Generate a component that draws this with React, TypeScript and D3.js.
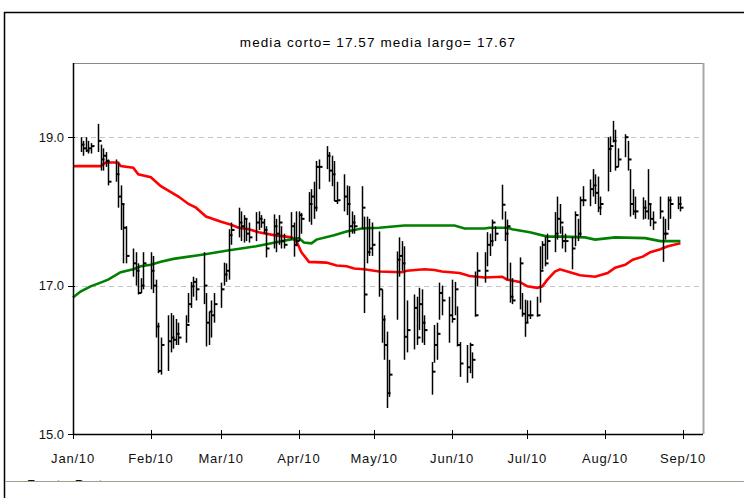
import React from 'react';
import * as d3 from 'd3';

// chart text
const title = 'media corto= 17.57 media largo= 17.67';
const source = 'Fuente: Reuters';
const monthLabels = ['Jan/10', 'Feb/10', 'Mar/10', 'Apr/10', 'May/10', 'Jun/10', 'Jul/10', 'Aug/10', 'Sep/10'];
const yTicks = [15, 17, 19];
const gridTicks = [17, 19];

// daily bars, one line per month (Jan .. Aug 2010)
const high = [
  19.0, 18.95, 19.0, 18.95, 18.92, 19.18, 18.9, 18.85, 18.8, 18.7, 18.7, 18.65, 18.35, 18.1, 17.8, 17.5, 17.45, 17.3, 17.1, 17.45,
  17.45, 17.4, 17.08, 16.5, 16.3, 16.6, 16.63, 16.6, 16.55, 16.5, 16.6, 16.9, 17.05, 17.12, 17.1, 17.45, 16.9, 16.65, 16.8, 16.9,
  17.04, 17.31, 17.3, 17.76, 17.85, 18.05, 18.0, 17.95, 17.9, 17.85, 17.99, 18.0, 17.95, 17.9, 17.8, 17.96, 17.9, 17.95, 17.8, 17.7, 17.99, 17.85, 18.0,
  18.0, 17.98, 18.26, 18.3, 18.4, 18.68, 18.7, 18.88, 18.8, 18.75, 18.68, 18.4, 18.5, 18.35, 18.34, 18.0, 17.95, 18.34, 17.93, 17.93, 17.9, 17.85,
  17.73, 16.95, 16.6, 16.38, 16.0, 17.46, 17.65, 17.6, 17.53, 16.8, 16.88, 16.85, 16.97, 16.95, 16.6, 15.97, 16.47, 16.5, 17.04, 17.0, 16.85,
  17.08, 17.05, 16.72, 16.24, 16.2, 16.23, 16.1, 17.19, 17.45, 17.45, 17.72, 17.7, 17.89, 17.8, 18.36, 18.0, 17.89, 17.31, 17.1, 17.38, 16.9, 16.81,
  16.8, 16.8, 16.85, 17.53, 17.6, 17.66, 17.7, 17.99, 18.2, 18.1, 17.8, 17.7, 17.66, 18.0, 17.9, 18.2, 18.34, 18.43, 18.57, 18.5, 18.47, 18.2,
  19.0, 19.01, 19.22, 19.1, 18.85, 19.04, 18.95, 18.57, 18.3, 18.2, 18.19, 18.15, 18.57, 18.1, 18.0, 18.2, 17.93, 17.9, 18.2, 18.2, 18.2, 18.2,
];
const low = [
  18.8, 18.75, 18.8, 18.78, 18.78, 18.8, 18.55, 18.55, 18.6, 18.35, 18.4, 18.05, 17.75, 17.3, 17.3, 17.12, 17.0, 16.88, 16.9, 16.95,
  16.95, 16.9, 16.3, 15.82, 15.8, 15.85, 16.1, 16.15, 16.2, 16.2, 16.23, 16.5, 16.7, 16.85, 16.8, 16.75, 16.18, 16.2, 16.3, 16.5,
  16.7, 17.0, 17.05, 17.08, 17.55, 17.65, 17.6, 17.58, 17.6, 17.58, 17.6, 17.75, 17.78, 17.7, 17.38, 17.5, 17.45, 17.55, 17.5, 17.5, 17.62, 17.39, 17.53,
  17.6, 17.7, 17.86, 17.82, 17.9, 18.0, 18.3, 18.57, 18.4, 18.34, 18.14, 18.1, 18.0, 17.95, 17.65, 17.7, 17.7, 17.76, 16.63, 17.3, 17.4, 17.4,
  16.85, 16.23, 16.0, 15.35, 15.5, 16.54, 17.12, 17.2, 16.0, 16.1, 16.14, 16.2, 16.4, 16.23, 16.2, 15.53, 15.96, 16.0, 16.54, 16.6, 16.23,
  16.5, 16.6, 16.18, 15.77, 15.69, 15.82, 15.75, 16.58, 16.99, 17.04, 17.26, 17.4, 17.53, 17.6, 17.89, 17.6, 17.08, 16.77, 16.75, 16.68, 16.58, 16.31,
  16.5, 16.55, 16.58, 16.77, 17.22, 17.26, 17.35, 17.45, 17.62, 17.7, 17.5, 17.45, 17.22, 17.53, 17.6, 17.66, 18.07, 18.07, 18.2, 18.1, 17.99, 17.95,
  18.27, 18.53, 18.93, 18.55, 18.6, 18.73, 18.55, 17.93, 17.95, 17.9, 17.89, 17.9, 17.89, 17.8, 17.75, 17.9, 17.32, 17.62, 17.75, 17.9, 18.03, 18.0,
];
const close = [
  18.9, 18.85, 18.82, 18.85, 18.88, 18.95, 18.7, 18.75, 18.68, 18.4, 18.5, 18.2, 18.1, 17.78, 17.4, 17.3, 17.2, 16.9, 17.0, 17.3,
  17.2, 17.0, 16.45, 15.85, 16.2, 16.25, 16.3, 16.27, 16.35, 16.3, 16.47, 16.75, 16.99, 17.05, 16.95, 17.0, 16.5, 16.65, 16.6, 16.75,
  16.95, 17.15, 17.2, 17.68, 17.75, 17.85, 17.8, 17.9, 17.7, 17.65, 17.85, 17.9, 17.85, 17.75, 17.5, 17.8, 17.7, 17.85, 17.6, 17.55, 17.8, 17.55, 17.6,
  17.95, 17.9, 18.1, 18.2, 18.05, 18.6, 18.6, 18.75, 18.55, 18.5, 18.14, 18.15, 18.2, 18.1, 17.8, 17.85, 17.8, 18.05, 16.88, 17.45, 17.5, 17.55,
  16.95, 16.54, 16.2, 15.55, 15.8, 17.35, 17.4, 17.3, 16.31, 16.4, 16.7, 16.3, 16.75, 16.5, 16.4, 15.84, 16.2, 16.35, 16.9, 16.8, 16.6,
  16.55, 16.95, 16.2, 15.95, 15.9, 16.2, 16.0, 16.6, 17.2, 17.2, 17.55, 17.6, 17.85, 17.7, 18.09, 17.7, 17.8, 16.85, 16.8, 17.3, 16.62, 16.5,
  16.6, 16.6, 16.6, 17.2, 17.55, 17.3, 17.6, 17.7, 17.9, 17.85, 17.6, 17.6, 17.5, 17.95, 17.7, 18.15, 18.15, 18.3, 18.35, 18.25, 18.05, 18.1,
  18.84, 18.88, 18.95, 18.6, 18.7, 19.0, 18.7, 18.1, 18.0, 18.0, 18.05, 18.0, 18.1, 17.9, 17.85, 18.0, 17.7, 17.7, 18.15, 18.1, 18.1, 18.05,
];

// short moving average (red)
const shortDates = [
  '2010-01-01', '2010-01-12', '2010-01-14', '2010-01-19', '2010-01-20', '2010-01-25', '2010-01-27', '2010-02-01', '2010-02-05',
  '2010-02-09', '2010-02-12', '2010-02-16', '2010-02-19', '2010-02-23', '2010-03-01', '2010-03-05', '2010-03-08', '2010-03-12',
  '2010-03-16', '2010-03-22', '2010-03-29', '2010-03-31', '2010-04-02', '2010-04-05', '2010-04-12', '2010-04-16', '2010-04-20',
  '2010-04-23', '2010-04-27', '2010-05-03', '2010-05-12', '2010-05-14', '2010-05-21', '2010-05-25', '2010-05-28', '2010-06-04',
  '2010-06-08', '2010-06-14', '2010-06-21', '2010-06-23', '2010-06-28', '2010-07-01', '2010-07-05', '2010-07-07', '2010-07-09',
  '2010-07-12', '2010-07-14', '2010-07-19', '2010-07-22', '2010-07-28', '2010-08-02', '2010-08-05', '2010-08-09', '2010-08-12',
  '2010-08-16', '2010-08-19', '2010-08-23', '2010-08-26', '2010-08-31',
];
const shortMa = [
  18.61, 18.61, 18.66, 18.66, 18.61, 18.59, 18.5, 18.46, 18.34,
  18.26, 18.2, 18.1, 18.05, 17.93, 17.86, 17.82, 17.78, 17.76,
  17.72, 17.68, 17.65, 17.6, 17.45, 17.32, 17.31, 17.27, 17.26,
  17.23, 17.22, 17.19, 17.18, 17.2, 17.22, 17.21, 17.19, 17.17,
  17.13, 17.11, 17.12, 17.08, 17.05, 16.99, 16.97, 16.99, 17.08,
  17.19, 17.22, 17.17, 17.14, 17.12, 17.17, 17.24, 17.28, 17.35,
  17.39, 17.45, 17.49, 17.53, 17.57,
];

// long moving average (green)
const longDates = [
  '2010-01-01', '2010-01-04', '2010-01-08', '2010-01-12', '2010-01-15', '2010-01-20', '2010-01-25', '2010-01-28', '2010-02-01',
  '2010-02-05', '2010-02-10', '2010-02-22', '2010-03-03', '2010-03-15', '2010-03-24', '2010-03-30', '2010-04-01', '2010-04-03',
  '2010-04-06', '2010-04-08', '2010-04-15', '2010-04-20', '2010-04-26', '2010-05-03', '2010-05-13', '2010-06-02', '2010-06-06',
  '2010-06-14', '2010-06-16', '2010-06-23', '2010-06-25', '2010-07-02', '2010-07-09', '2010-07-15', '2010-07-24', '2010-07-28',
  '2010-08-05', '2010-08-17', '2010-08-23', '2010-08-31',
];
const longMa = [
  16.84, 16.92, 16.99, 17.04, 17.08, 17.18, 17.22, 17.26, 17.28,
  17.32, 17.36, 17.42, 17.47, 17.53, 17.59, 17.63, 17.64, 17.58,
  17.57, 17.62, 17.68, 17.73, 17.77, 17.78, 17.81, 17.81, 17.77,
  17.77, 17.78, 17.78, 17.76, 17.72, 17.66, 17.66, 17.65, 17.62,
  17.65, 17.64, 17.6, 17.6,
];

const W = 744, H = 498;
const margin = { left: 73, right: 41, top: 63, bottom: 64 };
const font = 'Arial, "Liberation Sans", sans-serif';

function App() {
  const parse = d3.timeParse('%Y-%m-%d');
  const days = d3.timeDay
    .range(new Date(2010, 0, 4), new Date(2010, 8, 1))
    .filter(d => d.getDay() !== 0 && d.getDay() !== 6);

  const x = d3.scaleTime()
    .domain([new Date(2010, 0, 1), new Date(2010, 8, 9)])
    .range([margin.left, W - margin.right]);
  const y = d3.scaleLinear()
    .domain([15, 20])
    .range([H - margin.bottom, margin.top]);

  const months = d3.timeMonth.range(new Date(2010, 0, 1), new Date(2010, 8, 2));

  const line = d3.line<[Date, number]>()
    .x(d => x(d[0]))
    .y(d => y(d[1]));
  const shortPts = shortDates.map((d, i) => [parse(d)!, shortMa[i]] as [Date, number]);
  const longPts = longDates.map((d, i) => [parse(d)!, longMa[i]] as [Date, number]);

  const x0 = margin.left, x1 = W - margin.right;
  const y0 = H - margin.bottom, y1 = margin.top;

  return (
    <svg width={W} height={H} style={{ position: 'absolute', left: 0, top: 0, background: '#fff' }}
      fontFamily={font}>
      <defs>
        <clipPath id="srcclip"><rect x={0} y={0} width={W} height={481} /></clipPath>
      </defs>
      <rect x={4.5} y={12.5} width={W + 20} height={H + 20} fill="none" stroke="#000" strokeWidth={1.5} />

      <text x={378} y={46.5} textAnchor="middle" fontSize={13.5} letterSpacing={1.1} fill="#000">{title}</text>

      {gridTicks.map(t => (
        <line key={t} x1={x0} x2={x1} y1={Math.round(y(t)) + 0.5} y2={Math.round(y(t)) + 0.5}
          stroke="#c4c4c4" strokeDasharray="5,4" />
      ))}

      <line x1={x0} x2={x1} y1={y1 + 0.5} y2={y1 + 0.5} stroke="#8a8a8a" />
      <line x1={x1 + 0.5} x2={x1 + 0.5} y1={y1} y2={y0} stroke="#a8a8a8" strokeWidth={2} />

      <path d={line(shortPts) ?? ''} fill="none" stroke="#ff0000" strokeWidth={2.6} />
      <path d={line(longPts) ?? ''} fill="none" stroke="#008000" strokeWidth={2.6} />

      {days.map((d, i) => {
        const bx = Math.round(x(d)) + 0.5;
        return (
          <g key={i} stroke="#000">
            <line x1={bx} x2={bx} y1={y(high[i])} y2={y(low[i])} strokeWidth={1.5} />
            <line x1={bx} x2={bx + 3} y1={y(close[i])} y2={y(close[i])} strokeWidth={2} />
          </g>
        );
      })}

      <line x1={x0 + 0.5} x2={x0 + 0.5} y1={y1} y2={y0 + 1} stroke="#000" strokeWidth={1.5} />
      <line x1={x0} x2={x1} y1={y0 + 0.5} y2={y0 + 0.5} stroke="#000" strokeWidth={1.5} />

      {yTicks.map(t => (
        <g key={t}>
          <line x1={x0 - 5} x2={x0 + 2} y1={Math.round(y(t)) + 0.5} y2={Math.round(y(t)) + 0.5} stroke="#000" />
          <text x={x0 - 9} y={y(t) + 4.5} textAnchor="end" fontSize={13} fill="#111">{t.toFixed(1)}</text>
        </g>
      ))}

      {months.map((m, i) => (
        <g key={i}>
          <line x1={Math.round(x(m)) + 0.5} x2={Math.round(x(m)) + 0.5} y1={y0 - 4} y2={y0 + 5} stroke="#000" />
          <text x={x(m)} y={y0 + 29} textAnchor="middle" fontSize={13} letterSpacing={0.8} fill="#111">{monthLabels[i]}</text>
        </g>
      ))}

      <text x={27} y={489} fontSize={13} fill="#111" clipPath="url(#srcclip)">{source}</text>
      <line x1={5} x2={W} y1={481.5} y2={481.5} stroke="#a0a090" />
    </svg>
  );
}

export default App;
